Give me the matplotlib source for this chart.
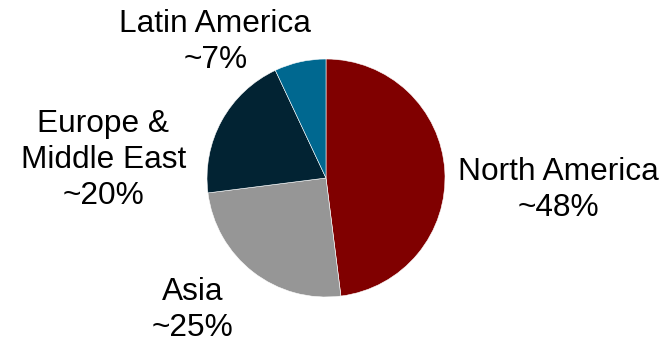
import matplotlib
matplotlib.use('Agg')
import matplotlib.pyplot as plt

# regions, clockwise from 12 o'clock
regions = ['North America', 'Asia', 'Europe &\nMiddle East', 'Latin America']
shares = [48, 25, 20, 7]
colors = ['#800000', '#969696', '#022333', '#006890']

# label centres in pie-radius units
label_pos = [(1.95, -0.10), (-1.12, -1.11), (-1.87, 0.15), (-0.93, 1.14)]

plt.rcParams['font.family'] = ['Liberation Sans', 'DejaVu Sans']

fig = plt.figure(figsize=(6.72, 3.43), dpi=100)
ax = fig.add_axes([0, 0, 1, 1])

ax.pie(shares, colors=colors, startangle=90, counterclock=False,
       radius=1.0, center=(0, 0),
       wedgeprops=dict(edgecolor='white', linewidth=0.4))

for name, val, (lx, ly) in zip(regions, shares, label_pos):
    ax.text(lx, ly, '{}\n~{}%'.format(name, val), ha='center', va='center',
            fontsize=22.8, color='black', linespacing=1.25)

# centre of pie at (326,178) px, radius 119 px
r = 119.0
ax.set_xlim(-326 / r, (672 - 326) / r)
ax.set_ylim(-(343 - 178) / r, 178 / r)
ax.set_aspect('equal')
ax.axis('off')

fig.savefig('out.png', dpi=100)
